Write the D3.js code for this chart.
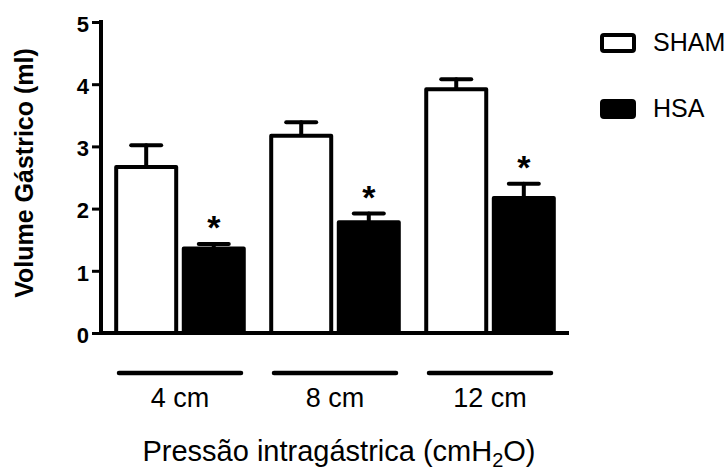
<!DOCTYPE html>
<html>
<head>
<meta charset="utf-8">
<script src="https://cdn.jsdelivr.net/npm/d3@7"></script>
<style>
  html, body { margin: 0; padding: 0; background: #fff; }
  svg { display: block; font-family: "Liberation Sans", Arial, sans-serif; }
</style>
</head>
<body>
<svg id="chart" width="724" height="473"></svg>
<script>
// ---- data ----
const categories = ["4 cm", "8 cm", "12 cm"];
const seriesNames = ["SHAM", "HSA"];
const shamValues = [2.67, 3.17, 3.92];
const shamErrors = [0.35, 0.22, 0.16];
const hsaValues = [1.36, 1.78, 2.17];
const hsaErrors = [0.07, 0.14, 0.23];
const hsaSignificant = [true, true, true];
const yTicks = [0, 1, 2, 3, 4, 5];
const yLabel = "Volume Gástrico (ml)";
const xLabelMain = "Pressão intragástrica (cmH";
const xLabelSub = "2";
const xLabelEnd = "O)";

const svg = d3.select("#chart");
const axisX = 101, plotRight = 569, plotBottom = 333, plotTop = 22;

const y = d3.scaleLinear().domain([0, 5]).range([plotBottom, plotTop]);
const x0 = d3.scaleBand().domain(categories).range([axisX, plotRight])
  .paddingInner(0.177).paddingOuter(0.098);
const x1 = d3.scaleBand().domain(seriesNames).range([0, x0.bandwidth()])
  .paddingInner(0.112).paddingOuter(0);

const rows = [];
categories.forEach((c, i) => {
  rows.push({cat: c, s: "SHAM", v: shamValues[i], e: shamErrors[i], sig: false});
  rows.push({cat: c, s: "HSA", v: hsaValues[i], e: hsaErrors[i], sig: hsaSignificant[i]});
});

// error bars (drawn first so bars cover the base)
const eb = svg.append("g").attr("stroke", "#000").attr("stroke-width", 4).attr("stroke-linecap", "round");
rows.forEach(d => {
  const cx = x0(d.cat) + x1(d.s) + x1.bandwidth() / 2;
  eb.append("line").attr("x1", cx).attr("x2", cx).attr("y1", y(d.v)).attr("y2", y(d.v + d.e));
  eb.append("line").attr("x1", cx - 15).attr("x2", cx + 15).attr("y1", y(d.v + d.e)).attr("y2", y(d.v + d.e));
});

// bars
svg.append("g").selectAll("rect").data(rows).join("rect")
  .attr("x", d => x0(d.cat) + x1(d.s))
  .attr("y", d => y(d.v))
  .attr("width", x1.bandwidth())
  .attr("height", d => y(0) - y(d.v))
  .attr("fill", d => d.s === "SHAM" ? "#fff" : "#000")
  .attr("stroke", "#000")
  .attr("stroke-width", 4)
  .attr("stroke-linejoin", "round");

// significance asterisks
svg.append("g").selectAll("text").data(rows.filter(d => d.sig)).join("text")
  .attr("x", d => x0(d.cat) + x1(d.s) + x1.bandwidth() / 2)
  .attr("y", d => y(d.v + d.e) - 5)
  .attr("text-anchor", "middle")
  .attr("font-size", 34)
  .attr("font-weight", "bold")
  .attr("fill", "#000")
  .text("*");

// y axis
const yAxis = svg.append("g").attr("transform", `translate(${axisX},0)`)
  .call(d3.axisLeft(y).tickValues(yTicks).tickSize(9).tickPadding(3).tickFormat(d3.format("d")));
yAxis.select(".domain").attr("stroke-width", 4).attr("d", `M0,${plotTop - 2}V${plotBottom}`);
yAxis.selectAll(".tick line").attr("stroke-width", 3);
yAxis.selectAll(".tick text").attr("font-size", 22).attr("font-weight", "bold")
  .attr("font-family", "Liberation Sans, Arial, sans-serif").attr("fill", "#000").attr("dy", "0.42em");

// x axis line
svg.append("line").attr("x1", axisX - 2).attr("x2", plotRight).attr("y1", plotBottom).attr("y2", plotBottom)
  .attr("stroke", "#000").attr("stroke-width", 4);

// group lines and labels
const gl = svg.append("g");
categories.forEach(c => {
  const cx = x0(c) + x0.bandwidth() / 2;
  gl.append("line").attr("x1", cx - 61).attr("x2", cx + 61).attr("y1", 373).attr("y2", 373)
    .attr("stroke", "#000").attr("stroke-width", 4.5).attr("stroke-linecap", "round");
  gl.append("text").attr("x", cx).attr("y", 407).attr("text-anchor", "middle")
    .attr("font-size", 27).attr("fill", "#000").text(c);
});

// x axis title
const xt = svg.append("text").attr("x", 339).attr("y", 461).attr("text-anchor", "middle")
  .attr("font-size", 29).attr("fill", "#000");
xt.append("tspan").text(xLabelMain);
xt.append("tspan").attr("dy", 6).attr("font-size", 20).text(xLabelSub);
xt.append("tspan").attr("dy", -6).text(xLabelEnd);

// y axis title
svg.append("text").attr("transform", "translate(33,173) rotate(-90)")
  .attr("text-anchor", "middle").attr("font-size", 25).attr("font-weight", "bold")
  .attr("fill", "#000").text(yLabel);

// legend
const lg = svg.append("g");
seriesNames.forEach((s, i) => {
  const yy = 35 + i * 66;
  lg.append("rect").attr("x", 602).attr("y", yy).attr("width", 32).attr("height", 16)
    .attr("rx", 2).attr("fill", s === "SHAM" ? "#fff" : "#000")
    .attr("stroke", "#000").attr("stroke-width", 4);
  lg.append("text").attr("x", 653).attr("y", yy + 16).attr("font-size", 25).attr("fill", "#000").text(s);
});
</script>
</body>
</html>
